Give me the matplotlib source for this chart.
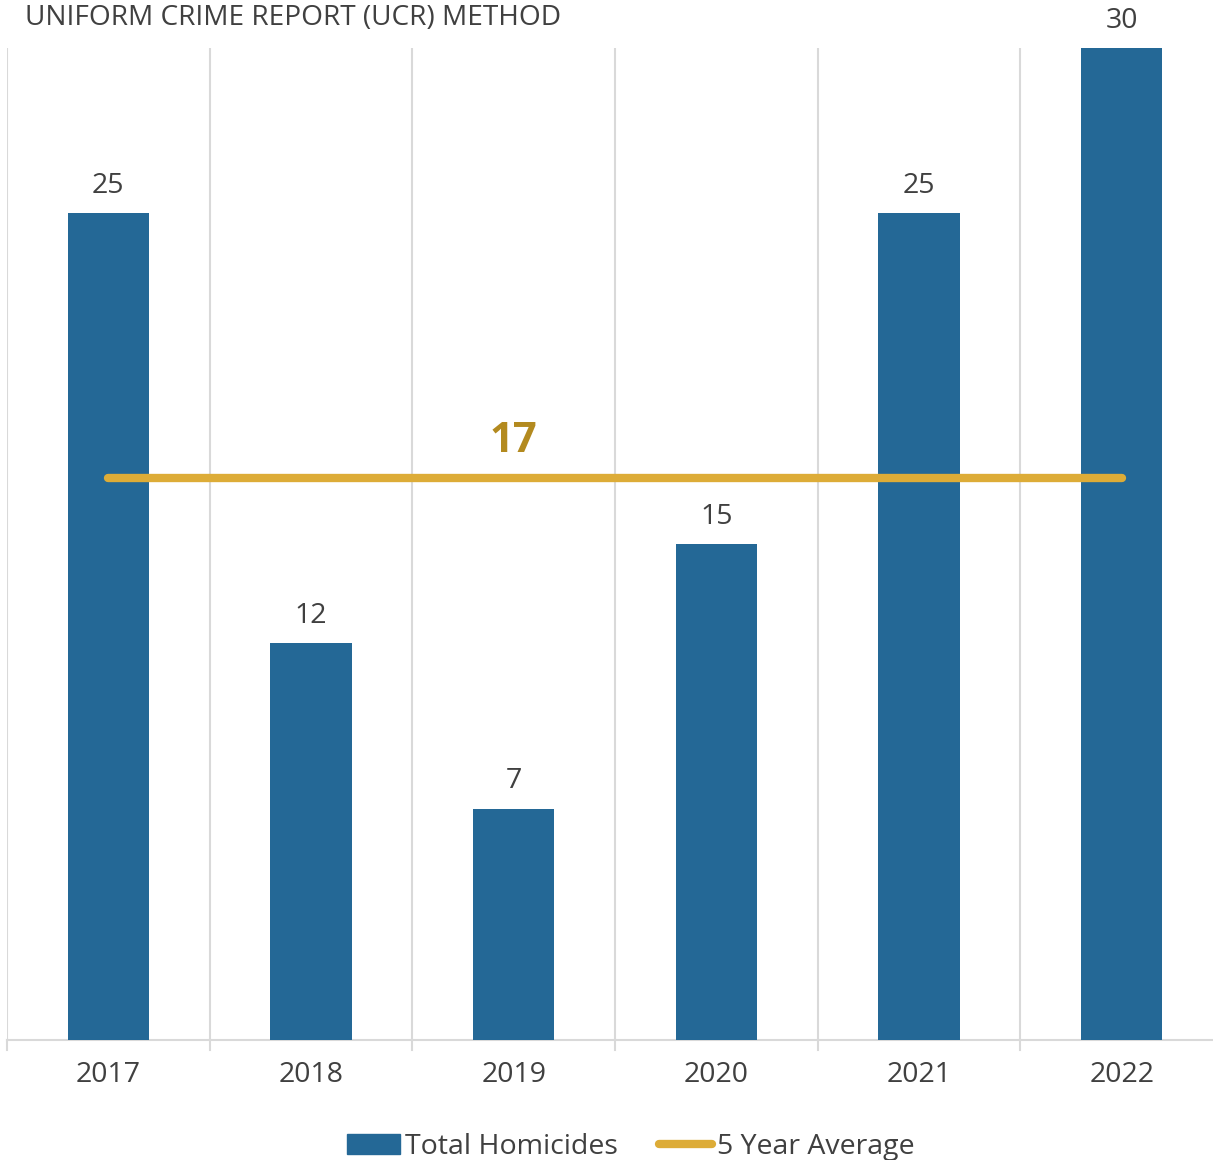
import matplotlib
matplotlib.use("Agg")
import matplotlib.pyplot as plt
import numpy as np
from matplotlib.lines import Line2D
from matplotlib.patches import Patch

years = ["2017", "2018", "2019", "2020", "2021", "2022"]
homicides = [25, 12, 7, 15, 25, 30]
five_year_avg = [17, 17, 17, 17, 17, 17]
avg_label = "17"

bar_color = "#246896"
avg_color = "#DDAC37"
text_color = "#404040"
grid_color = "#D9D9D9"

plt.rcParams["font.family"] = ["Open Sans", "DejaVu Sans"]

fig = plt.figure(figsize=(12.13, 11.6), dpi=100)
W, H = 1213, 1160
ax = fig.add_axes([7 / W, 120 / H, 1216 / W, 992 / H])

x = np.arange(len(years))
ax.bar(x, homicides, width=0.4, color=bar_color, zorder=3)
ax.plot(x, five_year_avg, color=avg_color, lw=6, solid_capstyle="round", zorder=4)

for xi, v in zip(x, homicides):
    ax.annotate(str(v), (xi, v), xytext=(0, 19.5), textcoords="offset points",
                ha="center", va="center", fontsize=20.5, color=text_color)

ax.text(2, five_year_avg[2] + 1.1, avg_label, ha="center", va="center",
        fontsize=30, fontweight="bold", color="#B38A1F", zorder=5)

ax.set_xlim(-0.5, len(years) - 0.5)
ax.set_ylim(0, 30)
ax.set_yticks([])
ax.set_xticks(x)
ax.set_xticklabels(years, fontsize=20.5, color=text_color)
ax.tick_params(axis="x", length=0, pad=15)

# category boundary grid lines and ticks
for b in np.arange(-0.5, len(years), 1.0):
    ax.axvline(b, color=grid_color, lw=1.5, zorder=1)
    ax.plot([b, b], [0, -0.3], color=grid_color, lw=1.5, clip_on=False)

for s in ["top", "right", "left"]:
    ax.spines[s].set_visible(False)
ax.spines["bottom"].set_color(grid_color)
ax.spines["bottom"].set_linewidth(1.5)

fig.text(25 / W, 1 - 18 / H, "UNIFORM CRIME REPORT (UCR) METHOD", ha="left",
         va="center", fontsize=20.2, color=text_color)

handles = [Patch(color=bar_color, label="Total Homicides"),
           Line2D([0], [0], color=avg_color, lw=6, solid_capstyle="round",
                  label="5 Year Average")]
fig.legend(handles=handles, loc="center", bbox_to_anchor=(631 / W, 1 - 1147 / H),
           ncol=2, frameon=False, fontsize=20.5, handlelength=1.85,
           handletextpad=0.18, columnspacing=1.45, labelcolor=text_color)

fig.savefig("out.png", dpi=100)
